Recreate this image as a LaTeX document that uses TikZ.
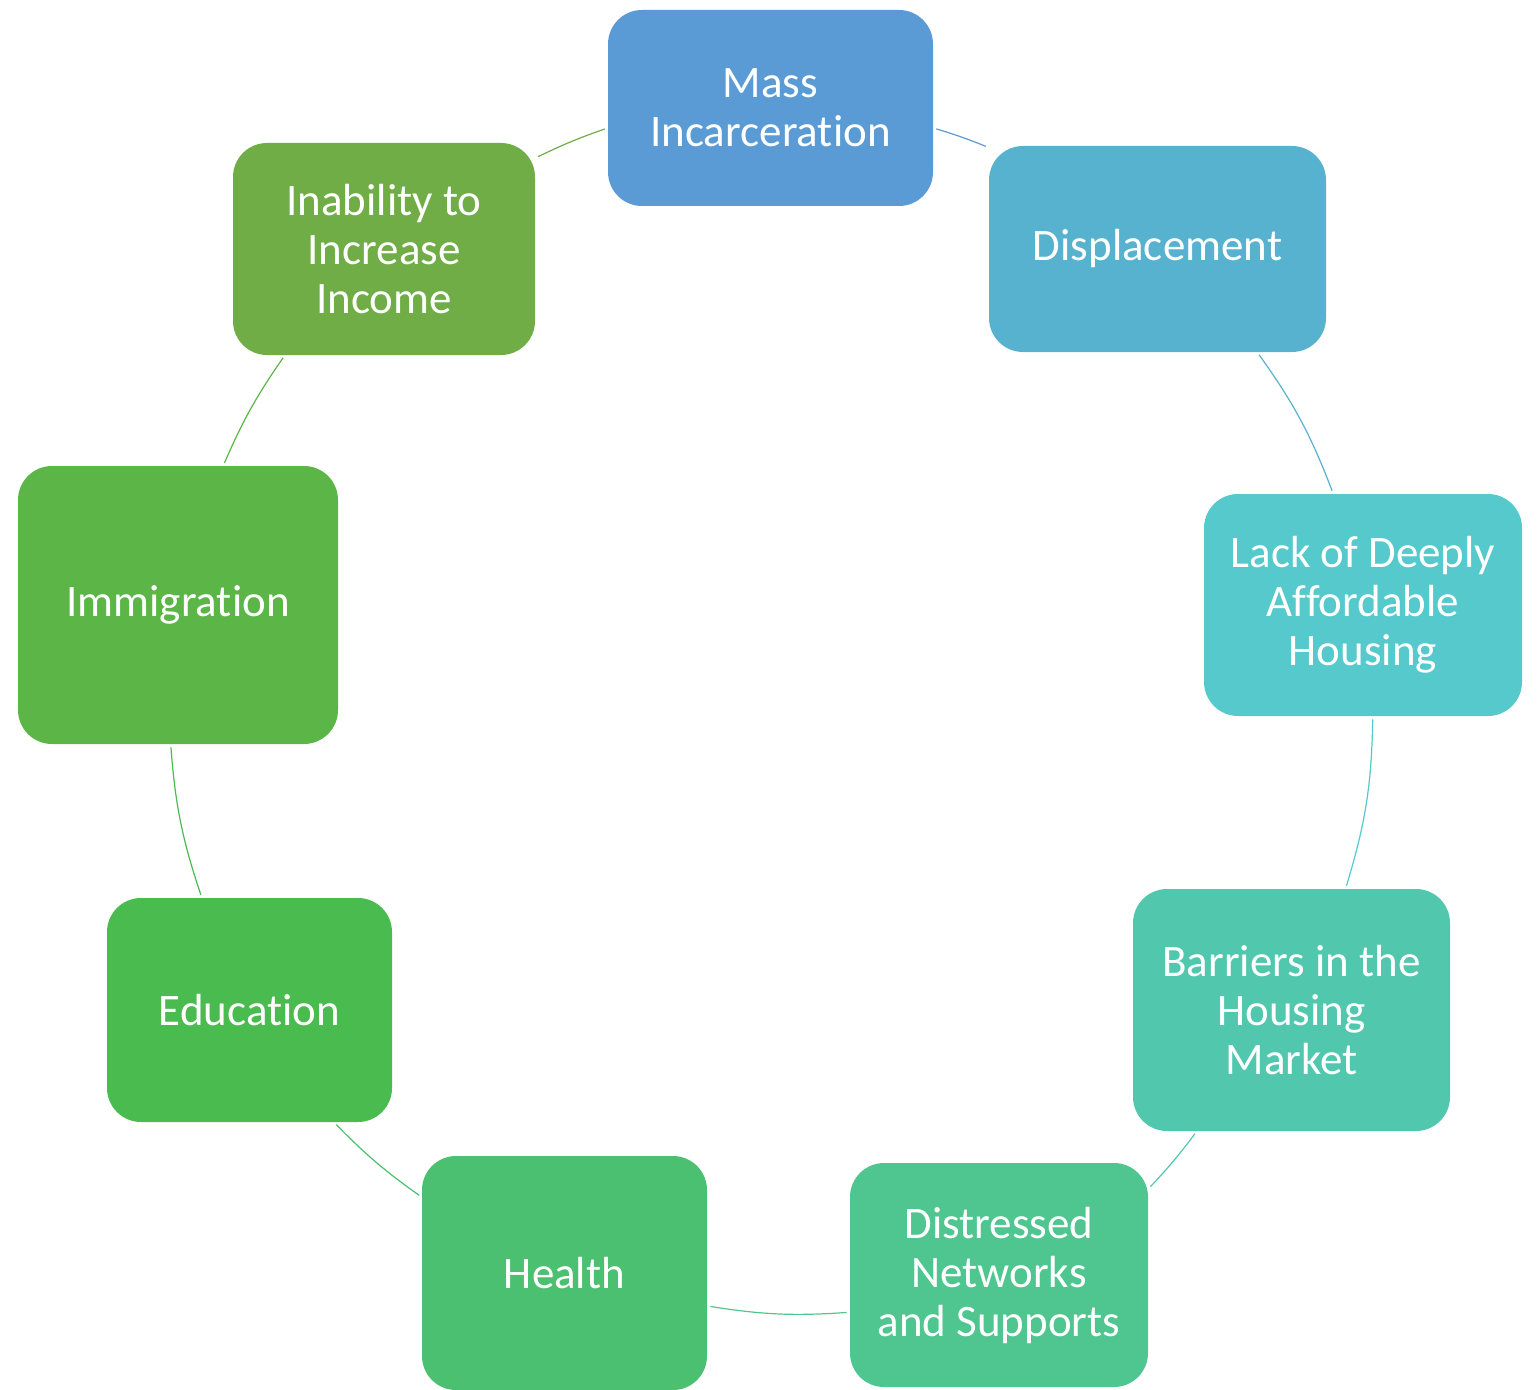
\documentclass[tikz,border=0pt]{standalone}
\usepackage{fontspec}
\setmainfont{Carlito}[Ligatures=NoCommon]
\begin{document}
\begin{tikzpicture}[x=0.5pt,y=-0.5pt,
  box/.style={rectangle, rounded corners=17pt, inner sep=0pt, align=center,
    text=white, font=\fontsize{22.5}{24.5}\selectfont},
  link/.style={line width=0.6pt, shorten <=1.5pt, shorten >=1.5pt}]
\definecolor{cMass}{HTML}{5B9BD5}
\definecolor{cDisp}{HTML}{57B2CF}
\definecolor{cLack}{HTML}{55C9CB}
\definecolor{cBarr}{HTML}{51C8AE}
\definecolor{cDist}{HTML}{4FC68F}
\definecolor{cHealth}{HTML}{4BC070}
\definecolor{cEdu}{HTML}{4ABB4F}
\definecolor{cImmi}{HTML}{5CB647}
\definecolor{cInab}{HTML}{70AD47}
\useasboundingbox (0,0) rectangle (1540,1390);

% boxes around the cycle
\node[box, fill=cMass, minimum width=162.5pt, minimum height=98pt] (mass) at (770.5,108) {Mass\\Incarceration};
\node[box, fill=cDisp, minimum width=168.5pt, minimum height=103pt] (disp) at (1157.5,249) {Displacement};
\node[box, fill=cLack, minimum width=159pt, minimum height=111pt] (lack) at (1363,605) {Lack of Deeply\\Affordable\\Housing};
\node[box, fill=cBarr, minimum width=158.5pt, minimum height=121pt] (barr) at (1291.5,1010) {Barriers in the\\Housing\\Market};
\node[box, fill=cDist, minimum width=149pt, minimum height=112pt] (dist) at (999,1275) {Distressed\\Networks\\and Supports};
\node[box, fill=cHealth, minimum width=142.5pt, minimum height=117pt] (health) at (564.5,1273) {Health};
\node[box, fill=cEdu, minimum width=142.5pt, minimum height=112pt] (edu) at (249.5,1010) {Education};
\node[box, fill=cImmi, minimum width=160pt, minimum height=139pt] (immi) at (178,605) {Immigration};
\node[box, fill=cInab, minimum width=151pt, minimum height=106pt] (inab) at (384,249) {Inability to\\Increase\\Income};

% arcs linking neighbours clockwise
\draw[link, cMass]   (mass.-7.6)    to[bend left=2.6] (disp.149.4);
\draw[link, cDisp]   (disp.-46.5)   to[bend left=7.4] (lack.105.7);
\draw[link, cLack]   (lack.-85.5)   to[bend left=8]   (barr.66.4);
\draw[link, cBarr]   (barr.232.7)   to[bend left=3.3] (dist.30.2);
\draw[link, cDist]   (dist.194.7)   to[bend left=6.5] (health.-13.4);
\draw[link, cHealth] (health.152.4) to[bend left=5.2] (edu.-53.2);
\draw[link, cEdu]    (edu.113.9)    to[bend left=7.1] (immi.-93.2);
\draw[link, cImmi]   (immi.72.8)    to[bend left=5.7] (inab.227.2);
\draw[link, cInab]   (inab.31.7)    to[bend left=3.4] (mass.187.9);
\end{tikzpicture}
\end{document}
